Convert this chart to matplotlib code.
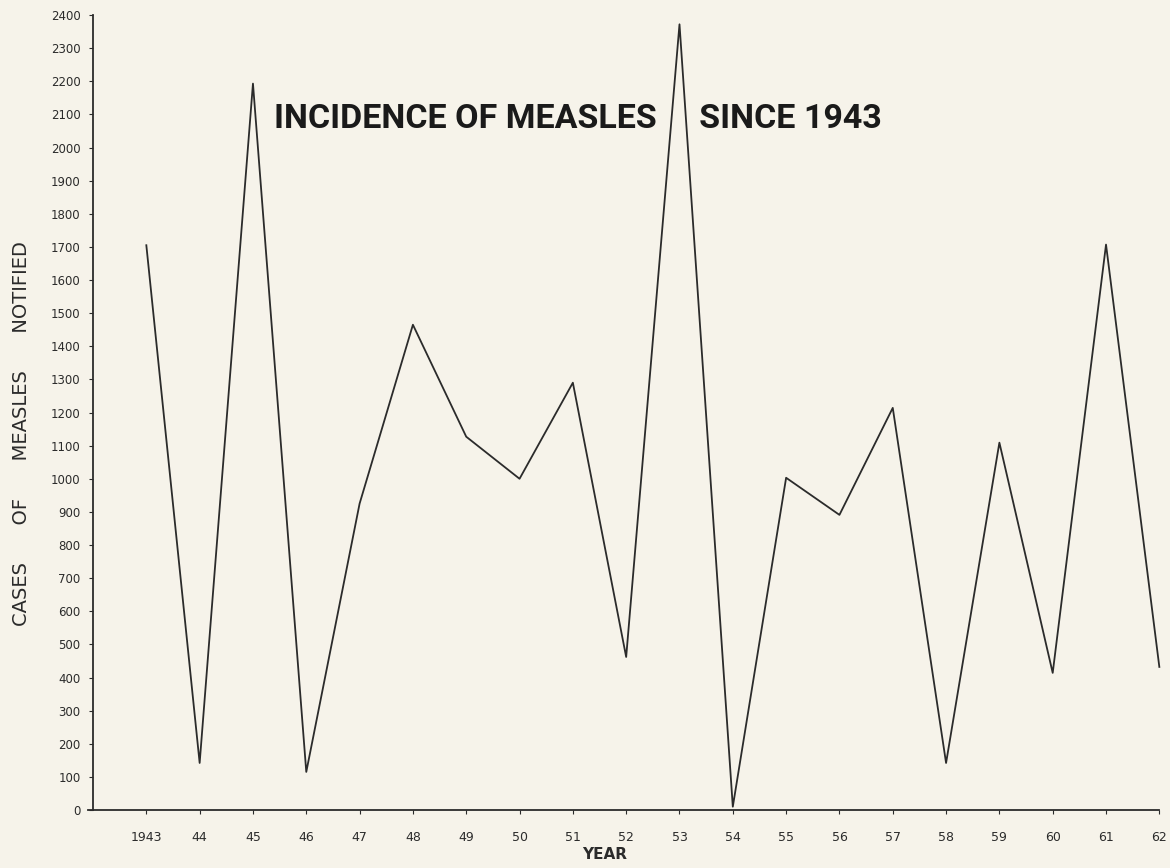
import matplotlib
matplotlib.use("Agg")
import matplotlib.pyplot as plt

# Measles notifications
years = list(range(1943, 1963))
cases = [1705, 142, 2193, 115, 925, 1465, 1127, 1000, 1290, 462,
         2372, 10, 1003, 891, 1214, 142, 1109, 414, 1707, 432]

year_labels = ["1943"] + [str(y)[2:] for y in years[1:]]
y_ticks = list(range(0, 2401, 100))

paper = "#f6f3ea"
ink = "#2b2b2b"

fig = plt.figure(figsize=(11.7, 8.68), dpi=100, facecolor=paper)
ax = fig.add_axes([0.0795, 0.0668, 0.9205, 0.9159], facecolor=paper)

ax.plot(years, cases, color=ink, linewidth=1.3)

ax.set_xlim(1942, 1962.2)
ax.set_ylim(0, 2400)

ax.spines["top"].set_visible(False)
ax.spines["right"].set_visible(False)
ax.spines["left"].set_color(ink)
ax.spines["bottom"].set_color(ink)
ax.spines["left"].set_linewidth(1.3)
ax.spines["bottom"].set_linewidth(1.3)
ax.spines["bottom"].set_bounds(1941.9, 1962)

ax.set_yticks(y_ticks)
ax.set_yticklabels([str(v) for v in y_ticks], fontsize=8.5, color=ink)
ax.set_xticks(years)
ax.set_xticklabels(year_labels, fontsize=9, color=ink)
ax.tick_params(axis="y", direction="out", length=3, width=0.8, colors=ink, pad=6)
ax.tick_params(axis="x", direction="out", length=3, width=0.8, colors=ink, pad=12)

ax.set_xlabel("YEAR", fontsize=11, color=ink, fontweight="bold")
ax.xaxis.set_label_coords(0.475, -0.047)
ax.set_ylabel("CASES      OF      MEASLES      NOTIFIED", fontsize=14, color=ink)
ax.yaxis.set_label_coords(-0.058, 0.474)

ax.text(1951.1, 2085, "INCIDENCE OF MEASLES     SINCE 1943",
        fontsize=24.5, fontweight="bold", color="#1a1a1a",
        family=["Liberation Sans Narrow", "Roboto", "DejaVu Sans"],
        ha="center", va="center")

fig.savefig("out.png", dpi=100, facecolor=paper)
